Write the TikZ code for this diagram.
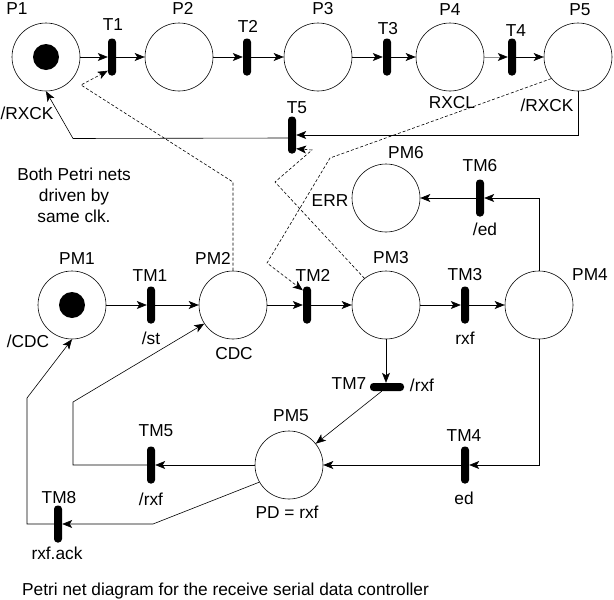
\documentclass[tikz,border=0pt]{standalone}
\usepackage{fontspec}
\setmainfont{Liberation Sans}
\usetikzlibrary{arrows.meta}
\begin{document}
\begin{tikzpicture}[x=1pt,y=-1pt,
  place/.style={circle,draw,line width=0.6pt,minimum size=68pt,inner sep=0pt},
  tbar/.style={fill=black,rounded corners=3.5pt,minimum width=8pt,minimum height=37pt,inner sep=0pt},
  hbar/.style={fill=black,rounded corners=3.5pt,minimum width=34pt,minimum height=8pt,inner sep=0pt},
  token/.style={circle,fill=black,minimum size=26pt,inner sep=0pt},
  lbl/.style={inner sep=0pt,font=\fontsize{17.3}{20}\selectfont,text height=12.4pt,text depth=0pt},
  arr/.style={line width=0.6pt,-{Stealth[length=10pt,width=8pt,inset=2.5pt]}},
  darr/.style={arr,dash pattern=on 3pt off 2pt},
]
\useasboundingbox[fill=white] (0,0) rectangle (614,600);

% ---- upper net ----
\node[place] (p1) at (46,57) {};
\node[place] (p2) at (179,57) {};
\node[place] (p3) at (318,57) {};
\node[place] (p4) at (450,57) {};
\node[place] (p5) at (578,57) {};
\node[token] (k1) at (p1) {};
\node[tbar] (t1) at (112,57) {};
\node[tbar] (t2) at (247,57) {};
\node[tbar] (t3) at (387,57) {};
\node[tbar] (t4) at (512,57) {};
\node[tbar] (t5) at (292,135) {};

\node[lbl] (lp1) at (17,8) {P1};
\node[lbl] (lp2) at (183,8) {P2};
\node[lbl] (lp3) at (323,8) {P3};
\node[lbl] (lp4) at (450,9) {P4};
\node[lbl] (lp5) at (580,9) {P5};
\node[lbl] (lt1) at (113,24) {T1};
\node[lbl] (lt2) at (248,26) {T2};
\node[lbl] (lt3) at (388,28) {T3};
\node[lbl] (lt4) at (516,30) {T4};
\node[lbl] (lt5) at (297,107) {T5};
\node[lbl] (lrx1) at (27,113) {/RXCK};
\node[lbl] (lrxcl) at (452,102) {RXCL};
\node[lbl] (lrx2) at (547,105) {/RXCK};

\draw[arr] (p1) -- (t1);
\draw[arr] (t1) -- (p2);
\draw[arr] (p2) -- (t2);
\draw[arr] (t2) -- (p3);
\draw[arr] (p3) -- (t3);
\draw[arr] (t3) -- (p4);
\draw[arr,draw=black!45,-{Stealth[length=10pt,width=8pt,inset=2.5pt,color=black]}] (p4) -- (t4);
\draw[arr] (t4) -- (p5);
\draw[arr] (p5.south) |- (t5.east);
\draw[arr] ([yshift=-3pt]t5.west) -- (73,138.5) -- (p1.south);

% ---- note ----
\node[inner sep=0pt,align=center,anchor=north,font=\fontsize{17.3}{21}\selectfont] (note) at (74,168) {Both Petri nets\\driven by\\same clk.};

% ---- lower net ----
\node[place] (pm1) at (72,305) {};
\node[place] (pm2) at (233,305) {};
\node[place] (pm3) at (386,305) {};
\node[place] (pm4) at (539,305) {};
\node[place] (pm5) at (289,465) {};
\node[place] (pm6) at (386,198) {};
\node[token] (k2) at (pm1) {};
\node[tbar] (tm1) at (151,305) {};
\node[tbar] (tm2) at (307,305) {};
\node[tbar] (tm3) at (465,305) {};
\node[tbar] (tm4) at (465,465) {};
\node[tbar] (tm5) at (151,465) {};
\node[tbar] (tm6) at (480,198) {};
\node[hbar] (tm7) at (387,387) {};
\node[tbar] (tm8) at (58,524) {};

\node[lbl] (lpm1) at (77,258) {PM1};
\node[lbl] (lpm2) at (213,258) {PM2};
\node[lbl] (lpm3) at (391,257) {PM3};
\node[lbl] (lpm4) at (590,274) {PM4};
\node[lbl] (lpm5) at (291,415) {PM5};
\node[lbl] (lpm6) at (406,152) {PM6};
\node[lbl] (ltm1) at (150,275) {TM1};
\node[lbl] (ltm2) at (313,275) {TM2};
\node[lbl] (ltm3) at (465,274) {TM3};
\node[lbl] (ltm4) at (464,435) {TM4};
\node[lbl] (ltm5) at (156,430) {TM5};
\node[lbl] (ltm6) at (480,165) {TM6};
\node[lbl] (ltm7) at (349,383) {TM7};
\node[lbl] (ltm8) at (59,497) {TM8};
\node[lbl] (lcdc1) at (28,341) {/CDC};
\node[lbl] (lst) at (151,338) {/st};
\node[lbl] (lcdc2) at (234,353) {CDC};
\node[lbl] (lrxf1) at (465,338) {rxf};
\node[lbl] (lerr) at (330,200) {ERR};
\node[lbl] (led1) at (485,229) {/ed};
\node[lbl] (lrxf2) at (422,385) {/rxf};
\node[lbl] (led2) at (464,498) {ed};
\node[lbl] (lpd) at (287,512) {PD = rxf};
\node[lbl] (lrxf3) at (151,499) {/rxf};
\node[lbl] (lack) at (57,553) {rxf.ack};

\draw[arr] (pm1) -- (tm1);
\draw[arr] (tm1) -- (pm2);
\draw[arr] (pm2) -- (tm2);
\draw[arr] (tm2) -- (pm3);
\draw[arr] (pm3) -- (tm3);
\draw[arr] (tm3) -- (pm4);
\draw[arr] (pm4.north) |- (tm6);
\draw[arr] (tm6) -- (pm6);
\draw[arr] (pm3.south) -- (pm3.south |- tm7.north);
\draw[arr] (tm7) -- (pm5);
\draw[arr] (pm4.south) |- (tm4);
\draw[arr] (tm4) -- (pm5);
\draw[arr] (pm5) -- (tm5);
\draw[arr] (tm5) -- (73,465) -- (73,402) -- (pm2.213);
\draw[arr] (pm5.210) -- (153,524) -- (tm8);
\draw[arr] (tm8) -- (27,524) -- (27,398) -- (pm1.south);

% ---- dashed couplings ----
\draw[darr] (pm2.north) -- (233,182) -- (81,85) -- ([yshift=5pt]t1.south west);
\draw[darr] (p5.219) -- (330,158) -- (267,263) -- ([yshift=-4pt]tm2.north west);
\draw[darr] (pm3.129) -- (275,182) -- (312,150) -- ([yshift=5pt]t5.south east);

% ---- caption ----
\node[lbl,anchor=west] (cap) at (22,589) {Petri net diagram for the receive serial data controller};
\end{tikzpicture}
\end{document}
